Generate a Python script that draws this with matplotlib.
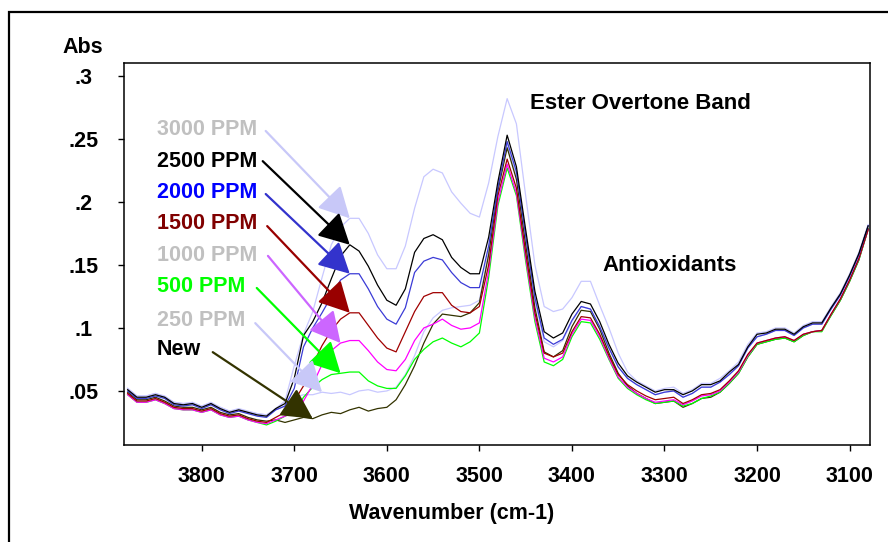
import numpy as np
import matplotlib
matplotlib.use('Agg')
import matplotlib.pyplot as plt
from matplotlib.patches import Rectangle

plt.rcParams['font.family'] = ['Liberation Sans', 'DejaVu Sans']
plt.rcParams['font.weight'] = 'bold'

# wavenumber grid (cm-1), every 10 from 3880 down to 3080
wavenumber = np.arange(3880, 3070, -10)

# absorbance, one list per sample
ppm3000 = [0.052, 0.046, 0.046, 0.048, 0.046, 0.041, 0.040, 0.041, 0.038, 0.041, 0.037, 0.034, 0.036, 0.034, 0.032, 0.031,
           0.036, 0.042, 0.070, 0.095, 0.113, 0.140, 0.166, 0.180, 0.187, 0.187, 0.175, 0.158, 0.147, 0.147, 0.165, 0.195,
           0.220, 0.226, 0.223, 0.208, 0.199, 0.191, 0.188,
           0.215, 0.252, 0.282, 0.262, 0.205, 0.150, 0.117, 0.113, 0.115, 0.124, 0.137, 0.137, 0.118, 0.100, 0.080, 0.065,
           0.058, 0.054, 0.050, 0.052, 0.053, 0.048, 0.051, 0.056, 0.056, 0.060, 0.066, 0.073, 0.087, 0.096, 0.097, 0.100,
           0.100, 0.096, 0.102, 0.105, 0.105, 0.117, 0.128, 0.143, 0.160, 0.182]
ppm2500 = [0.051, 0.045, 0.045, 0.047, 0.045, 0.040, 0.039, 0.040, 0.037, 0.040, 0.036, 0.033, 0.035, 0.033, 0.031, 0.030,
           0.036, 0.040, 0.060, 0.094, 0.105, 0.120, 0.139, 0.157, 0.166, 0.161, 0.149, 0.134, 0.122, 0.118, 0.131, 0.160,
           0.171, 0.174, 0.170, 0.156, 0.148, 0.143, 0.143,
           0.172, 0.216, 0.253, 0.228, 0.178, 0.129, 0.097, 0.092, 0.096, 0.111, 0.121, 0.119, 0.105, 0.087, 0.072, 0.062,
           0.057, 0.053, 0.049, 0.051, 0.051, 0.047, 0.050, 0.055, 0.055, 0.058, 0.065, 0.071, 0.085, 0.095, 0.096, 0.099,
           0.099, 0.095, 0.101, 0.104, 0.104, 0.116, 0.127, 0.142, 0.159, 0.181]
ppm2000 = [0.050, 0.044, 0.044, 0.046, 0.044, 0.039, 0.038, 0.039, 0.036, 0.039, 0.035, 0.032, 0.034, 0.032, 0.030, 0.029,
           0.035, 0.038, 0.052, 0.085, 0.100, 0.112, 0.125, 0.138, 0.143, 0.143, 0.131, 0.117, 0.107, 0.103, 0.116, 0.144,
           0.153, 0.156, 0.154, 0.144, 0.136, 0.132, 0.132,
           0.165, 0.211, 0.248, 0.224, 0.173, 0.124, 0.092, 0.087, 0.091, 0.106, 0.117, 0.115, 0.101, 0.084, 0.069, 0.060,
           0.055, 0.051, 0.047, 0.049, 0.050, 0.045, 0.048, 0.053, 0.053, 0.057, 0.063, 0.070, 0.084, 0.093, 0.095, 0.098,
           0.098, 0.094, 0.100, 0.103, 0.103, 0.115, 0.126, 0.141, 0.158, 0.181]
ppm1500 = [0.048, 0.042, 0.042, 0.044, 0.041, 0.037, 0.036, 0.036, 0.034, 0.036, 0.032, 0.030, 0.031, 0.028, 0.026, 0.025,
           0.029, 0.033, 0.042, 0.054, 0.071, 0.086, 0.098, 0.107, 0.112, 0.112, 0.102, 0.092, 0.084, 0.081, 0.097, 0.113,
           0.125, 0.128, 0.128, 0.118, 0.113, 0.112, 0.117,
           0.150, 0.205, 0.234, 0.211, 0.160, 0.112, 0.080, 0.077, 0.080, 0.097, 0.109, 0.108, 0.095, 0.078, 0.063, 0.055,
           0.050, 0.046, 0.043, 0.044, 0.045, 0.040, 0.043, 0.047, 0.048, 0.051, 0.058, 0.066, 0.079, 0.088, 0.090, 0.092,
           0.093, 0.090, 0.095, 0.097, 0.098, 0.111, 0.123, 0.138, 0.155, 0.178]
ppm1000 = [0.047, 0.041, 0.041, 0.043, 0.040, 0.036, 0.035, 0.035, 0.033, 0.035, 0.031, 0.029, 0.030, 0.027, 0.025, 0.024,
           0.027, 0.030, 0.033, 0.042, 0.055, 0.071, 0.082, 0.088, 0.090, 0.090, 0.082, 0.073, 0.067, 0.066, 0.075, 0.090,
           0.100, 0.103, 0.107, 0.102, 0.099, 0.100, 0.104,
           0.145, 0.200, 0.230, 0.207, 0.156, 0.108, 0.076, 0.073, 0.077, 0.095, 0.107, 0.106, 0.093, 0.076, 0.061, 0.053,
           0.048, 0.044, 0.041, 0.042, 0.043, 0.039, 0.042, 0.046, 0.047, 0.050, 0.057, 0.065, 0.078, 0.088, 0.090, 0.092,
           0.093, 0.090, 0.095, 0.097, 0.098, 0.111, 0.123, 0.138, 0.155, 0.178]
ppm500 = [0.047, 0.041, 0.041, 0.043, 0.040, 0.036, 0.035, 0.035, 0.033, 0.035, 0.031, 0.029, 0.030, 0.027, 0.025, 0.023,
          0.026, 0.030, 0.033, 0.045, 0.053, 0.059, 0.063, 0.064, 0.065, 0.065, 0.058, 0.054, 0.052, 0.052, 0.062, 0.075,
          0.083, 0.089, 0.092, 0.088, 0.085, 0.089, 0.096,
          0.140, 0.197, 0.227, 0.205, 0.153, 0.105, 0.073, 0.070, 0.075, 0.093, 0.105, 0.104, 0.091, 0.075, 0.060, 0.052,
          0.047, 0.043, 0.040, 0.041, 0.042, 0.038, 0.040, 0.044, 0.046, 0.049, 0.056, 0.064, 0.077, 0.087, 0.089, 0.091,
          0.092, 0.089, 0.094, 0.097, 0.097, 0.110, 0.122, 0.137, 0.154, 0.178]
ppm250 = [0.052, 0.046, 0.046, 0.048, 0.045, 0.041, 0.040, 0.040, 0.038, 0.040, 0.037, 0.034, 0.035, 0.033, 0.032, 0.031,
          0.035, 0.038, 0.045, 0.047, 0.047, 0.049, 0.048, 0.049, 0.047, 0.050, 0.051, 0.049, 0.050, 0.053, 0.063, 0.078,
          0.097, 0.108, 0.114, 0.116, 0.117, 0.118, 0.122,
          0.160, 0.211, 0.245, 0.221, 0.170, 0.122, 0.089, 0.085, 0.090, 0.105, 0.117, 0.115, 0.101, 0.084, 0.069, 0.060,
          0.055, 0.051, 0.047, 0.049, 0.050, 0.045, 0.048, 0.053, 0.053, 0.057, 0.063, 0.070, 0.084, 0.093, 0.095, 0.098,
          0.098, 0.094, 0.100, 0.103, 0.103, 0.115, 0.126, 0.141, 0.158, 0.181]
new_oil = [0.049, 0.043, 0.043, 0.045, 0.042, 0.038, 0.037, 0.037, 0.035, 0.037, 0.033, 0.031, 0.032, 0.029, 0.027, 0.026,
           0.027, 0.025, 0.027, 0.029, 0.028, 0.031, 0.033, 0.032, 0.035, 0.037, 0.034, 0.036, 0.037, 0.043, 0.055, 0.070,
           0.088, 0.103, 0.111, 0.110, 0.109, 0.112, 0.120,
           0.158, 0.209, 0.243, 0.218, 0.166, 0.116, 0.081, 0.077, 0.082, 0.101, 0.114, 0.113, 0.099, 0.080, 0.064, 0.054,
           0.048, 0.044, 0.040, 0.041, 0.042, 0.037, 0.040, 0.044, 0.045, 0.049, 0.056, 0.064, 0.077, 0.087, 0.089, 0.091,
           0.092, 0.089, 0.094, 0.097, 0.098, 0.110, 0.122, 0.137, 0.154, 0.179]

labels = ['3000 PPM', '2500 PPM', '2000 PPM', '1500 PPM', '1000 PPM', '500 PPM', '250 PPM', 'New']
spectra = [ppm3000, ppm2500, ppm2000, ppm1500, ppm1000, ppm500, ppm250, new_oil]
line_colors = ['#c8c8ff', 'black', '#3b3bd6', '#a00000', '#ff00ff', '#00ff00', '#c8c8ff', '#333300']
arrow_colors = ['#c8c8f8', 'black', '#3333cc', '#990000', '#cc66ff', '#00ff00', '#c8c8f8', '#333300']
label_colors = ['#c0c0c0', 'black', '#0000ff', '#800000', '#c0c0c0', '#00ff00', '#c0c0c0', 'black']
arrow_at = [3640, 3640, 3640, 3640, 3650, 3650, 3670, 3680]  # wavenumber where each arrow points

xticks = [3800, 3700, 3600, 3500, 3400, 3300, 3200, 3100]
yticks = [0.05, 0.1, 0.15, 0.2, 0.25, 0.3]
ytick_labels = ['.05', '.1', '.15', '.2', '.25', '.3']

fig = plt.figure(figsize=(8.88, 5.42), dpi=100)
ax = fig.add_axes([0.1396, 0.179, 0.8401, 0.7048])

# draw the light ones first so the darker lines sit on top
for i in [0, 6, 7, 5, 4, 3, 2, 1]:
    ax.plot(wavenumber, spectra[i], color=line_colors[i], lw=0.9)

ax.set_xlim(3884, 3078)
ax.set_ylim(0.0071, 0.3103)
ax.set_xticks(xticks)
ax.set_yticks(yticks)
ax.set_yticklabels(ytick_labels, ha='center')
ax.tick_params(axis='both', direction='out', length=4.3, width=1, labelsize=15.5)
ax.tick_params(axis='x', pad=10.5)
ax.tick_params(axis='y', pad=24.5)
for s in ax.spines.values():
    s.set_linewidth(1.1)

# labels on the left with arrows into the spectra
label_y = [0.827, 0.743, 0.662, 0.579, 0.497, 0.414, 0.327, 0.249]
tails = [(0.190, 0.822), (0.186, 0.743), (0.190, 0.657), (0.192, 0.573),
         (0.193, 0.495), (0.178, 0.411), (0.176, 0.319), (0.119, 0.243)]
for i in range(len(labels)):
    ax.text(0.0442, label_y[i], labels[i], transform=ax.transAxes, fontsize=15.5,
            color=label_colors[i], ha='left', va='center')
    k = list(wavenumber).index(arrow_at[i])
    ax.annotate('', xy=(wavenumber[k], spectra[i][k]), xycoords='data',
                xytext=tails[i], textcoords='axes fraction',
                arrowprops=dict(arrowstyle='-|>,head_length=0.95,head_width=0.5', mutation_scale=20,
                                color=arrow_colors[i], lw=1.6, shrinkA=0, shrinkB=0))

ax.text(0.544, 0.893, 'Ester Overtone Band', transform=ax.transAxes, fontsize=16, va='center')
ax.text(0.642, 0.469, 'Antioxidants', transform=ax.transAxes, fontsize=16, va='center')

fig.text(0.0935, 0.913, 'Abs', fontsize=15.5, ha='center', va='center')
fig.text(452 / 888, 1 - 513 / 542, 'Wavenumber (cm-1)', fontsize=15.5, ha='center', va='center')

# outer frame (cut off on the right and bottom in the original)
fig.patches.append(Rectangle((9 / 888, -0.1), 1.2, 1.1 - 12 / 542, transform=fig.transFigure,
                             fill=False, ec='black', lw=1.6))

fig.savefig('out.png', dpi=100)
